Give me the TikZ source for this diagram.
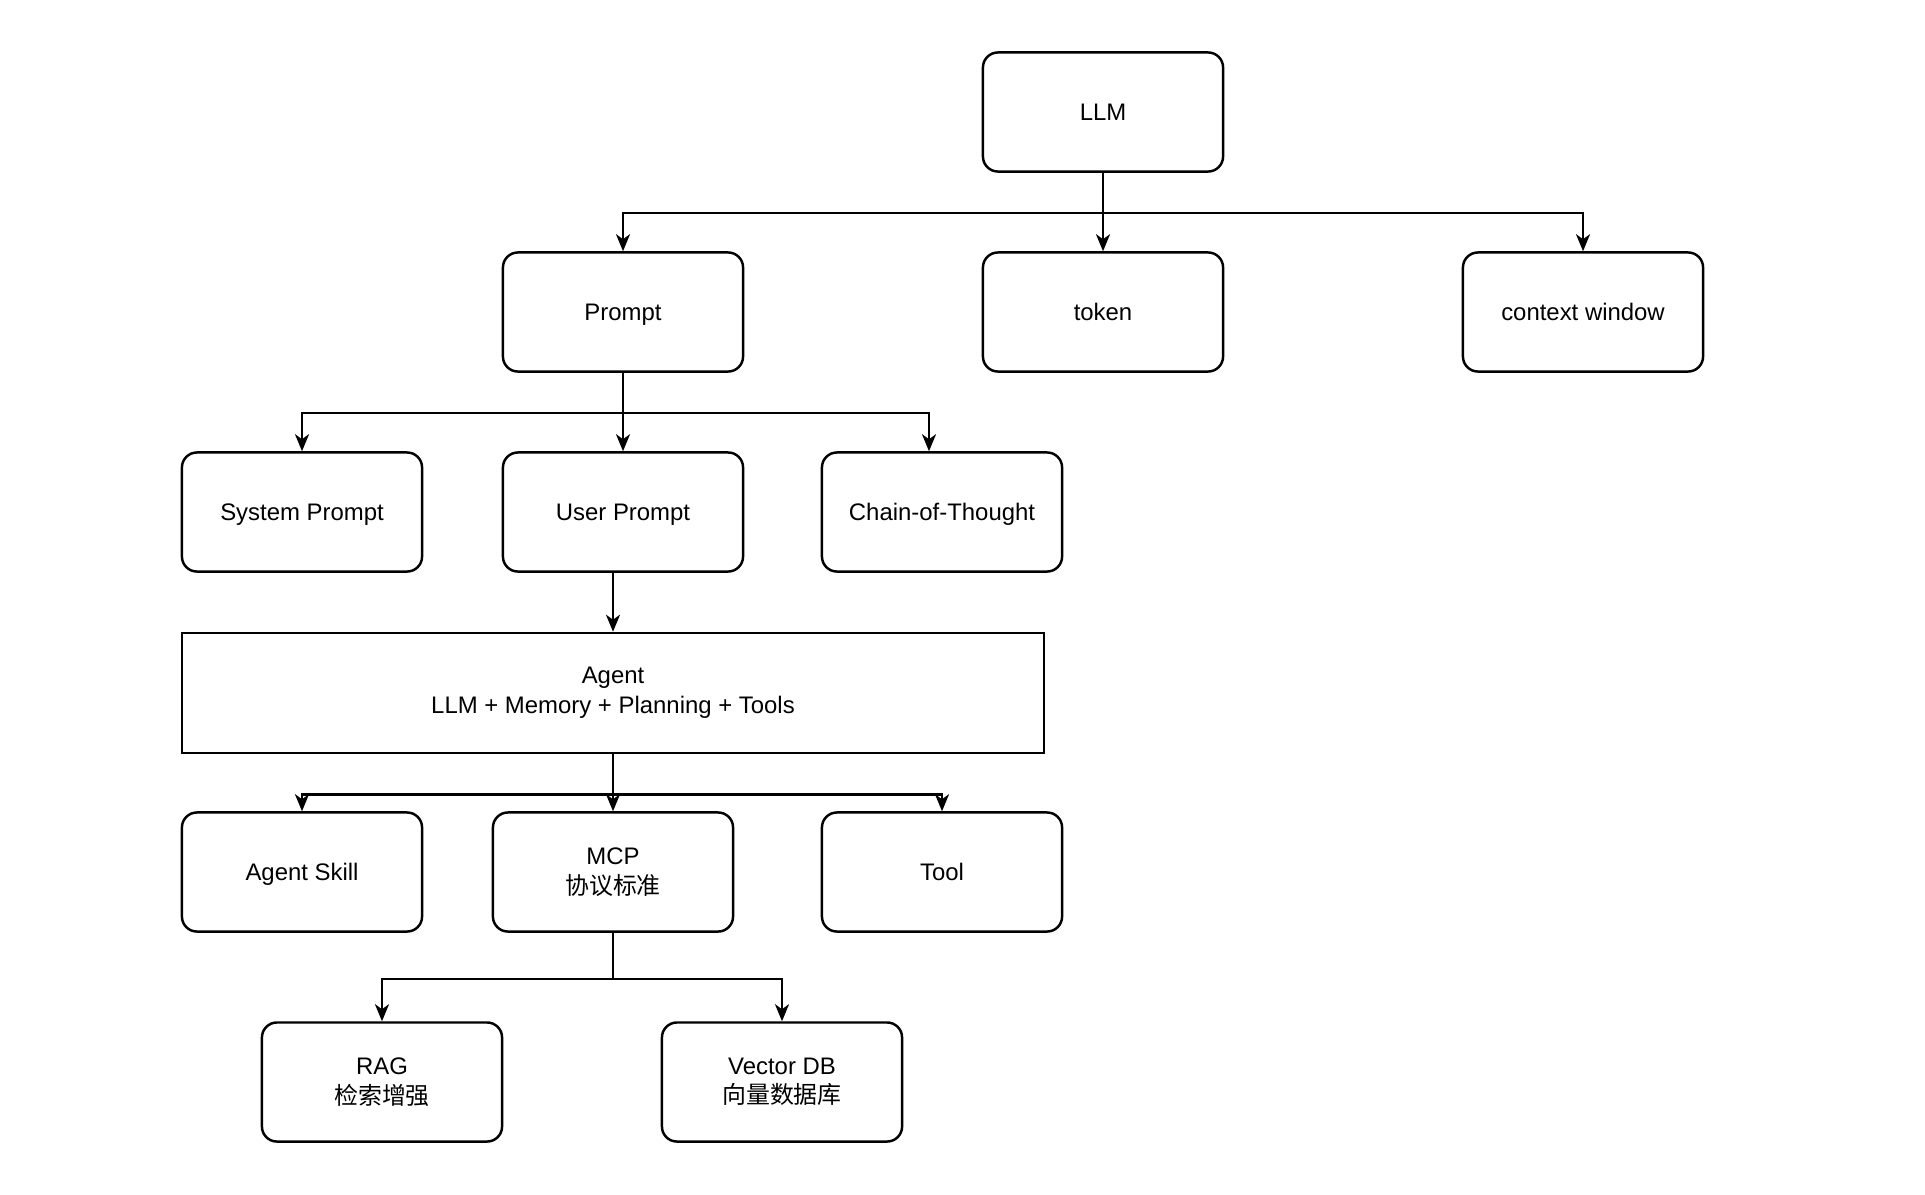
\documentclass[tikz,border=0pt]{standalone}
\usepackage{fontspec}
\setmainfont{Liberation Sans}
\newfontfamily\cjk{Noto Sans CJK SC}
\usetikzlibrary{arrows.meta, positioning}

\tikzset{
  box2/.style={draw, rounded corners=0.15cm, minimum width=2.4cm, minimum height=1.19cm,
    align=center, font=\fontsize{6.8pt}{8.4pt}\selectfont, line width=0.7pt},
  box/.style={box2, text height=0.72em, text depth=0.22em},
  arr/.style={-{Stealth[length=0.17cm, width=0.14cm, inset=0.05cm]}, line width=0.7pt},
}

\begin{document}
\begin{tikzpicture}[x=0.01cm, y=-0.01cm]
\useasboundingbox (0,0) rectangle (1925,1194);

% top level
\node[box] (llm) at (1103,112) {LLM};
\node[box] (prompt) at (623,312) {Prompt};
\node[box] (token) at (1103,312) {token};
\node[box] (ctx) at (1583,312) {context window};

% prompt types
\node[box] (sys) at (302,512) {System Prompt};
\node[box] (user) at (623,512) {User Prompt};
\node[box] (cot) at (942,512) {Chain-of-Thought};

% agent
\node[box2, rounded corners=0pt, minimum width=8.61cm, minimum height=1.2cm] (agent) at (613,693)
  {Agent\\LLM + Memory + Planning + Tools};

\node[box] (skill) at (302,872) {Agent Skill};
\node[box2] (mcp) at (613,872) {MCP\\{\cjk 协议标准}};
\node[box] (tool) at (942,872) {Tool};

\node[box2] (rag) at (382,1082) {RAG\\{\cjk 检索增强}};
\node[box2] (vdb) at (782,1082) {Vector DB\\{\cjk 向量数据库}};

% connectors
\draw[arr] (llm.south) -- ++(0,40) -| (prompt.north);
\draw[arr] (llm.south) -- (token.north);
\draw[arr] (llm.south) -- ++(0,40) -| (ctx.north);

\foreach \t in {sys, user}
  \draw[arr] (prompt.south) -- ++(0,40) -| (\t.north);
\draw[arr] (prompt.south) -- ++(0,40) -| ([xshift=-0.13cm]cot.north);

\draw[arr] (agent.north |- user.south) -- (agent.north);

\foreach \t in {skill, mcp, tool}
  \draw[arr] (agent.south) -- ++(0,40) -| (\t.north);

\foreach \t in {rag, vdb}
  \draw[arr] (mcp.south) -- ++(0,46) -| (\t.north);

\end{tikzpicture}
\end{document}
